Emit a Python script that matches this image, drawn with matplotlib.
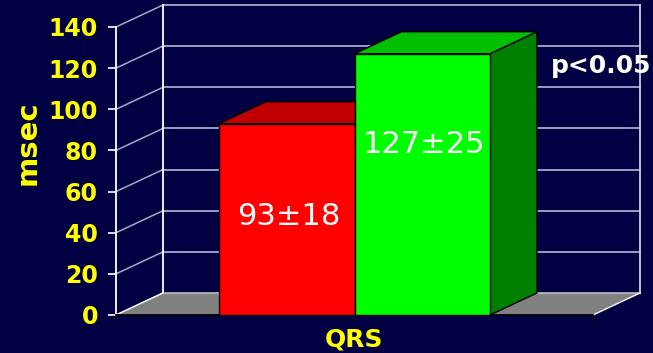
import matplotlib.pyplot as plt
from matplotlib.patches import Polygon

# QRS duration, two groups
category = 'QRS'
values = [93, 127]
value_labels = ['93±18', '127±25']
label_y = [48, 83]
y_ticks = [0, 20, 40, 60, 80, 100, 120, 140]

front_colors = ['#ff0000', '#00ff00']
top_colors = ['#c00000', '#00c000']
side_colors = ['#a00000', '#008000']
bg = '#000042'
yellow = '#ffff00'
grid_col = '#a8a8cc'

dx, dy = 0.0985, 10.7   # depth offset of the back wall (data units)
bar_w = 0.284

fig = plt.figure(figsize=(6.53, 3.53), dpi=100, facecolor=bg)
ax = fig.add_axes([116 / 653, 38 / 353, 477 / 653, 288 / 353])
ax.set_facecolor('none')
ax.set_xlim(-0.5, 0.5)
ax.set_ylim(0, 140)

# back wall and left wall grid
for v in y_ticks:
    ax.plot([-0.5 + dx, 0.5 + dx], [v + dy, v + dy], color=grid_col, lw=1.3, zorder=1, clip_on=False)
    ax.plot([-0.5, -0.5 + dx], [v, v + dy], color=grid_col, lw=1.1, zorder=1, clip_on=False)
ax.plot([-0.5 + dx, -0.5 + dx], [dy, 140 + dy], color='white', lw=1.3, zorder=1, clip_on=False)
ax.plot([0.5 + dx, 0.5 + dx], [dy, 140 + dy], color='#d0d0e0', lw=1.3, zorder=1, clip_on=False)

# floor
floor = Polygon([(-0.5, 0), (0.5, 0), (0.5 + dx, dy), (-0.5 + dx, dy)],
                closed=True, facecolor='#808080', edgecolor='none', zorder=1.5, clip_on=False)
ax.add_patch(floor)
ax.plot([-0.5 + dx, 0.5 + dx], [dy, dy], color='#b0b0b0', lw=1, zorder=1.6, clip_on=False)
ax.plot([-0.5, -0.5 + dx], [0, dy], color='white', lw=1, zorder=1.6, clip_on=False)
ax.plot([0.5, 0.5 + dx], [0, dy], color='white', lw=1, zorder=1.6, clip_on=False)

# bars: front faces via ax.bar, top and side faces as polygons
xs = [-bar_w / 2, bar_w / 2]
ax.bar(xs, values, width=bar_w, color=front_colors, edgecolor='black', lw=1, zorder=5)
for x, v, tc, sc in zip(xs, values, top_colors, side_colors):
    x0, x1 = x - bar_w / 2, x + bar_w / 2
    top = Polygon([(x0, v), (x1, v), (x1 + dx, v + dy), (x0 + dx, v + dy)],
                  closed=True, facecolor=tc, edgecolor='black', lw=1, zorder=4, clip_on=False)
    side = Polygon([(x1, 0), (x1 + dx, dy), (x1 + dx, v + dy), (x1, v)],
                   closed=True, facecolor=sc, edgecolor='black', lw=1, zorder=4, clip_on=False)
    ax.add_patch(side)
    ax.add_patch(top)

for x, ly, txt in zip(xs, label_y, value_labels):
    ax.text(x + 0.004, ly, txt, ha='center', va='center', color='white', fontsize=22,
            family='DejaVu Sans', zorder=6)

# axes
for s in ['top', 'right']:
    ax.spines[s].set_visible(False)
ax.spines['left'].set_color('white')
ax.spines['left'].set_linewidth(1.3)
ax.spines['bottom'].set_color('black')
ax.spines['bottom'].set_linewidth(1.3)
ax.spines['bottom'].set_zorder(3)

ax.set_yticks(y_ticks)
ax.set_yticklabels([str(t) for t in y_ticks], fontsize=17, fontweight='bold',
                   family='DejaVu Sans', color=yellow)
ax.tick_params(axis='y', colors='white', labelcolor=yellow, length=6, width=1.2, pad=7)
ax.set_xticks([-0.5, 0.5])
ax.set_xticklabels(['', ''])
ax.tick_params(axis='x', colors='black', length=5, width=1.3)

ax.text(0, -12, category, ha='center', va='center', color=yellow, fontsize=18,
        fontweight='bold', family='DejaVu Sans', clip_on=False)
fig.text(28 / 653, 1 - 143 / 353, 'msec', rotation=90, ha='center', va='center',
         color=yellow, fontsize=21, fontweight='bold', family='DejaVu Sans')
fig.text(551 / 653, 1 - 73 / 353, 'p<0.05', ha='left', va='baseline', color='white',
         fontsize=18, fontweight='bold', family='DejaVu Sans')

fig.savefig('out.png', dpi=100, facecolor=bg)
